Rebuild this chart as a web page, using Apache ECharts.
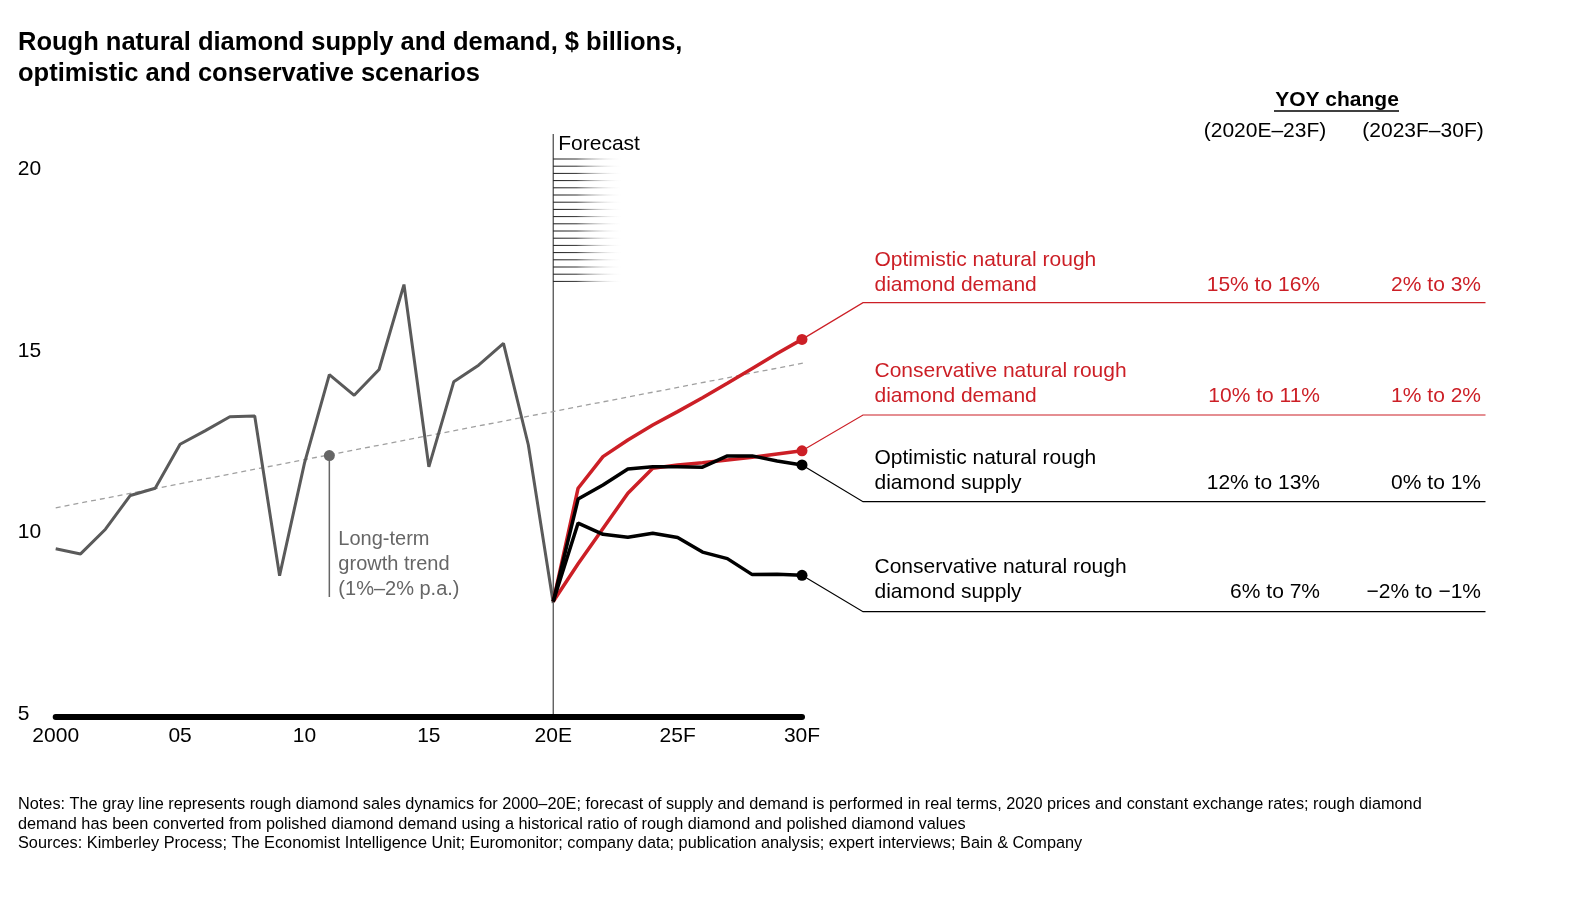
<!DOCTYPE html>
<html>
<head>
<meta charset="utf-8">
<script src="https://cdn.jsdelivr.net/npm/echarts@6/dist/echarts.min.js"></script>
<style>
html,body{margin:0;padding:0;background:#fff;}
#chart{width:1587px;height:922px;}
</style>
</head>
<body>
<div id="chart"></div>
<script>
// ---------- data ----------
const histYears = [2000,2001,2002,2003,2004,2005,2006,2007,2008,2009,2010,2011,2012,2013,2014,2015,2016,2017,2018,2019,2020];
const histValues = [9.55,9.41,10.09,11.02,11.22,12.43,12.80,13.19,13.21,8.81,11.91,14.35,13.78,14.49,16.83,11.81,14.15,14.61,15.21,12.41,8.06];
const fcYears = [2020,2021,2022,2023,2024,2025,2026,2027,2028,2029,2030];
const optDemand  = [8.1,11.22,12.09,12.55,12.96,13.33,13.71,14.11,14.52,14.93,15.32];
const consDemand = [8.1,9.14,10.11,11.08,11.77,11.86,11.92,12.00,12.07,12.16,12.25];
const optSupply  = [8.1,10.92,11.31,11.75,11.81,11.81,11.80,12.11,12.11,11.97,11.86];
const consSupply = [8.1,10.26,9.95,9.87,9.98,9.86,9.46,9.28,8.84,8.85,8.82];
const trendYears = [2000,2030.3];
const trendValues = [10.68,14.70];
const trendMarkYear = 2011;
const trendMarkTop = 12.12;
const trendMarkBottom = 8.22;
const xTickValues = [2000,2005,2010,2015,2020,2025,2030];
const xTickLabels = ['2000','05','10','15','20E','25F','30F'];
const seriesNames = ['Optimistic natural rough\ndiamond demand','Conservative natural rough\ndiamond demand','Optimistic natural rough\ndiamond supply','Conservative natural rough\ndiamond supply'];
const yoyEarly = ['15% to 16%','10% to 11%','12% to 13%','6% to 7%'];
const yoyLate = ['2% to 3%','1% to 2%','0% to 1%','\u22122% to \u22121%'];

const RED = '#cc1f26';
const FONT = '"Liberation Sans", Arial, sans-serif';

const pairs = (xs, ys) => xs.map((x,i)=>[x, ys[i]]);
function fcSeries(name, vals, color){
  const d = pairs(fcYears, vals).map((pt,i,arr)=> i===arr.length-1 ? {value:pt, symbol:'circle', symbolSize:11} : {value:pt, symbol:'none'});
  return {type:'line', name, data:d, showAllSymbol:true, lineStyle:{color, width:3.5}, itemStyle:{color}, z:3, animation:false, clip:false};
}

const chart = echarts.init(document.getElementById('chart'), null, {renderer:'canvas'});
const option = {
  animation:false,
  grid:{left:55.7, right:785, top:169.5, bottom:208, containLabel:false},
  xAxis:{type:'value', min:2000, max:2030, interval:5, offset:3,
    axisLine:{show:true, lineStyle:{color:'#000', width:6}},
    axisTick:{show:false}, splitLine:{show:false},
    axisLabel:{fontFamily:FONT, fontSize:21, color:'#000', margin:9,
      formatter:v=>{const i=xTickValues.indexOf(v); return i>=0?xTickLabels[i]:'';}}},
  yAxis:{type:'value', min:5, max:20, interval:5,
    axisLine:{show:false}, axisTick:{show:false}, splitLine:{show:false},
    axisLabel:{fontFamily:FONT, fontSize:21, color:'#000', align:'left', margin:38}},
  series:[
    {type:'line', data:pairs(trendYears, trendValues), symbol:'none', clip:false,
      lineStyle:{color:'#a0a0a0', width:1.3, type:[5,4]}, z:1},
    {type:'line', data:[{value:[trendMarkYear,trendMarkTop], symbol:'circle', symbolSize:11},{value:[trendMarkYear,trendMarkBottom], symbol:'none'}],
      showAllSymbol:true, lineStyle:{color:'#666', width:1.5}, itemStyle:{color:'#666'}, z:2},
    {type:'line', data:pairs(histYears, histValues), symbol:'none', lineStyle:{color:'#5a5a5a', width:3}, z:2},
    fcSeries('od', optDemand, RED),
    fcSeries('cd', consDemand, RED),
    fcSeries('os', optSupply, '#000'),
    fcSeries('cs', consSupply, '#000')
  ]
};
chart.setOption(option);

function px(x,y){ return chart.convertToPixel({gridIndex:0},[x,y]); }
const g = [];
// title
g.push({type:'text', left:18, top:27, style:{text:'Rough natural diamond supply and demand, $ billions,\noptimistic and conservative scenarios', font:'bold 25.5px '+FONT, fill:'#000', lineHeight:31.5}});
// forecast line
const fx = px(2020,5)[0];
const fyb = px(2020,5)[1];
g.push({type:'line', z:1, shape:{x1:fx, y1:134, x2:fx, y2:fyb}, style:{stroke:'#444', lineWidth:1.2}});
g.push({type:'text', z:5, x:fx+5, y:144, style:{text:'Forecast', font:'21px '+FONT, fill:'#000', textVerticalAlign:'middle'}});
for(let i=0;i<18;i++){
  const y = 159 + i*7.2;
  g.push({type:'line', z:1, shape:{x1:fx, y1:y, x2:fx+68, y2:y},
    style:{lineWidth:1, stroke:new echarts.graphic.LinearGradient(0,0,1,0,[{offset:0,color:'#111'},{offset:0.35,color:'#333'},{offset:1,color:'rgba(255,255,255,0)'}])}});
}
// trend annotation
g.push({type:'text', z:5, x:px(trendMarkYear,5)[0]+9, y:527, style:{text:'Long-term\ngrowth trend\n(1%\u20132% p.a.)', font:'20px '+FONT, fill:'#666', lineHeight:25}});
// right panel headers
g.push({type:'text', z:5, x:1337, y:100, style:{text:'YOY change', font:'bold 21px '+FONT, fill:'#000', textAlign:'center', textVerticalAlign:'middle'}});
g.push({type:'line', z:5, shape:{x1:1274, y1:111, x2:1399, y2:111}, style:{stroke:'#000', lineWidth:1.5}});
g.push({type:'text', z:5, x:1265, y:131, style:{text:'(2020E\u201323F)', font:'21px '+FONT, fill:'#000', textAlign:'center', textVerticalAlign:'middle'}});
g.push({type:'text', z:5, x:1423, y:131, style:{text:'(2023F\u201330F)', font:'21px '+FONT, fill:'#000', textAlign:'center', textVerticalAlign:'middle'}});
// series labels & connectors
const rowTop = [260, 371.7, 458.3, 567.7];
const rowLine = [302.7, 415, 501.7, 611.7];
const rowColor = [RED, RED, '#000', '#000'];
const lastVals = [optDemand, consDemand, optSupply, consSupply].map(a=>a[a.length-1]);
for(let i=0;i<4;i++){
  const c = rowColor[i];
  g.push({type:'text', z:5, x:874.5, y:rowTop[i]-12.5, style:{text:seriesNames[i], font:'21px '+FONT, fill:c, lineHeight:25, textVerticalAlign:'top'}});
  g.push({type:'text', z:5, x:1320, y:rowTop[i]+25, style:{text:yoyEarly[i], font:'21px '+FONT, fill:c, textAlign:'right', textVerticalAlign:'middle'}});
  g.push({type:'text', z:5, x:1481, y:rowTop[i]+25, style:{text:yoyLate[i], font:'21px '+FONT, fill:c, textAlign:'right', textVerticalAlign:'middle'}});
  const d = px(2030, lastVals[i]);
  g.push({type:'polyline', z:1, shape:{points:[d,[863,rowLine[i]],[1485.5,rowLine[i]]]}, style:{stroke:c, lineWidth:1.2, fill:null}});
}
// notes
g.push({type:'text', left:18, top:795, style:{text:'Notes: The gray line represents rough diamond sales dynamics for 2000\u201320E; forecast of supply and demand is performed in real terms, 2020 prices and constant exchange rates; rough diamond\ndemand has been converted from polished diamond demand using a historical ratio of rough diamond and polished diamond values\nSources: Kimberley Process; The Economist Intelligence Unit; Euromonitor; company data; publication analysis; expert interviews; Bain & Company', font:'16.3px '+FONT, fill:'#000', lineHeight:19.4}});
chart.setOption({graphic:{elements:g}});
</script>
</body>
</html>
